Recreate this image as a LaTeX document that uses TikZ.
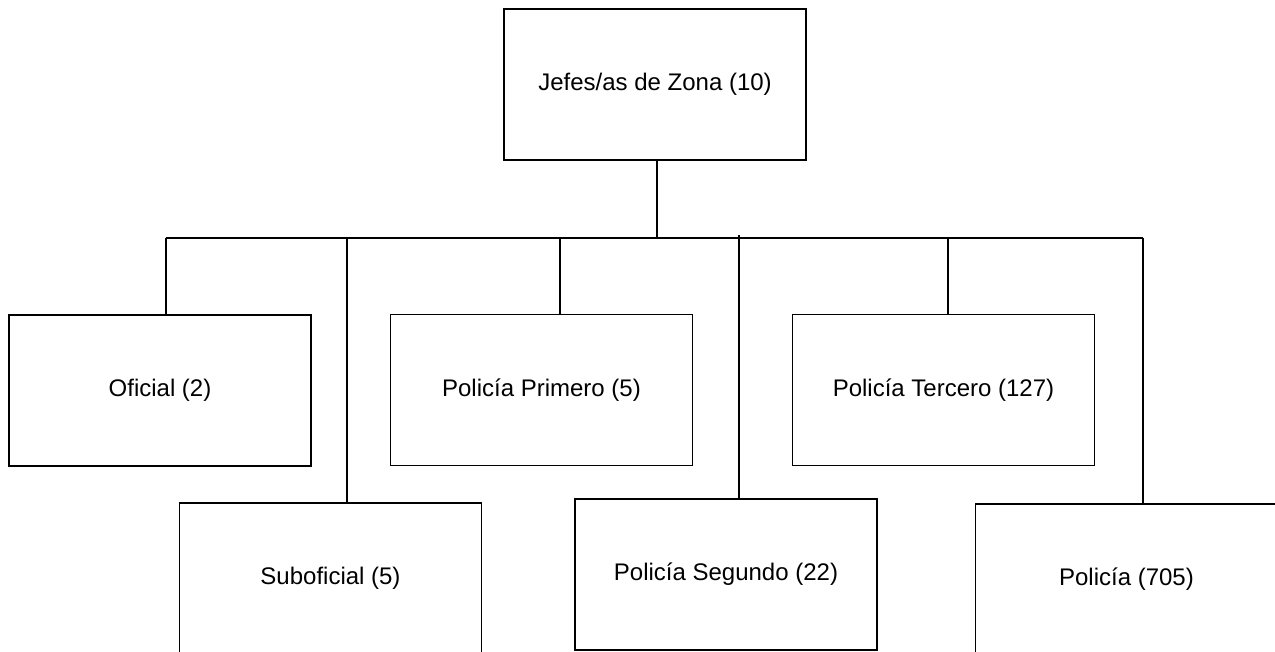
\documentclass[tikz,border=0pt]{standalone}
\usepackage{fontspec}
\setmainfont{Liberation Sans}
\begin{document}
\begin{tikzpicture}[x=1pt,y=-1pt,
  rank/.style={draw, line width=1.6pt, minimum width=302pt, minimum height=151pt,
    inner sep=0pt, font=\fontsize{24}{28}\selectfont},
  link/.style={line width=1.1pt}]
\useasboundingbox (0,0) rectangle (1275,652);
\clip (0,0) rectangle (1275,652);

% boxes
\node[rank] (jefes) at (655,84.5)  {Jefes/as de Zona (10)};
\node[rank] (ofi)   at (160,390.5) {Oficial (2)};
\node[rank] (sub)   at (330.5,578.5) {Suboficial (5)};
\node[rank] (pri)   at (541.5,390) {Policía Primero (5)};
\node[rank] (seg)   at (726,574.5) {Policía Segundo (22)};
\node[rank] (ter)   at (943.5,390) {Policía Tercero (127)};
\node[rank] (pol)   at (1126.5,579.5) {Policía (705)};

% bus taps
\coordinate (t0) at (657,238);
\coordinate (t1) at (166,238);
\coordinate (t2) at (347,238);
\coordinate (t3) at (560,238);
\coordinate (t4) at (739,235);
\coordinate (t5) at (948,238);
\coordinate (t6) at (1143,238);

% connectors
\draw[link] (t1) -- (t6);
\draw[link] (t0 |- jefes.south) -- (t0);
\draw[link] (t1) -- (t1 |- ofi.north);
\draw[link] (t2) -- (t2 |- sub.north);
\draw[link] (t3) -- (t3 |- pri.north);
\draw[link] (t4) -- (t4 |- seg.north);
\draw[link] (t5) -- (t5 |- ter.north);
\draw[link] (t6) -- (t6 |- pol.north);
\end{tikzpicture}
\end{document}
